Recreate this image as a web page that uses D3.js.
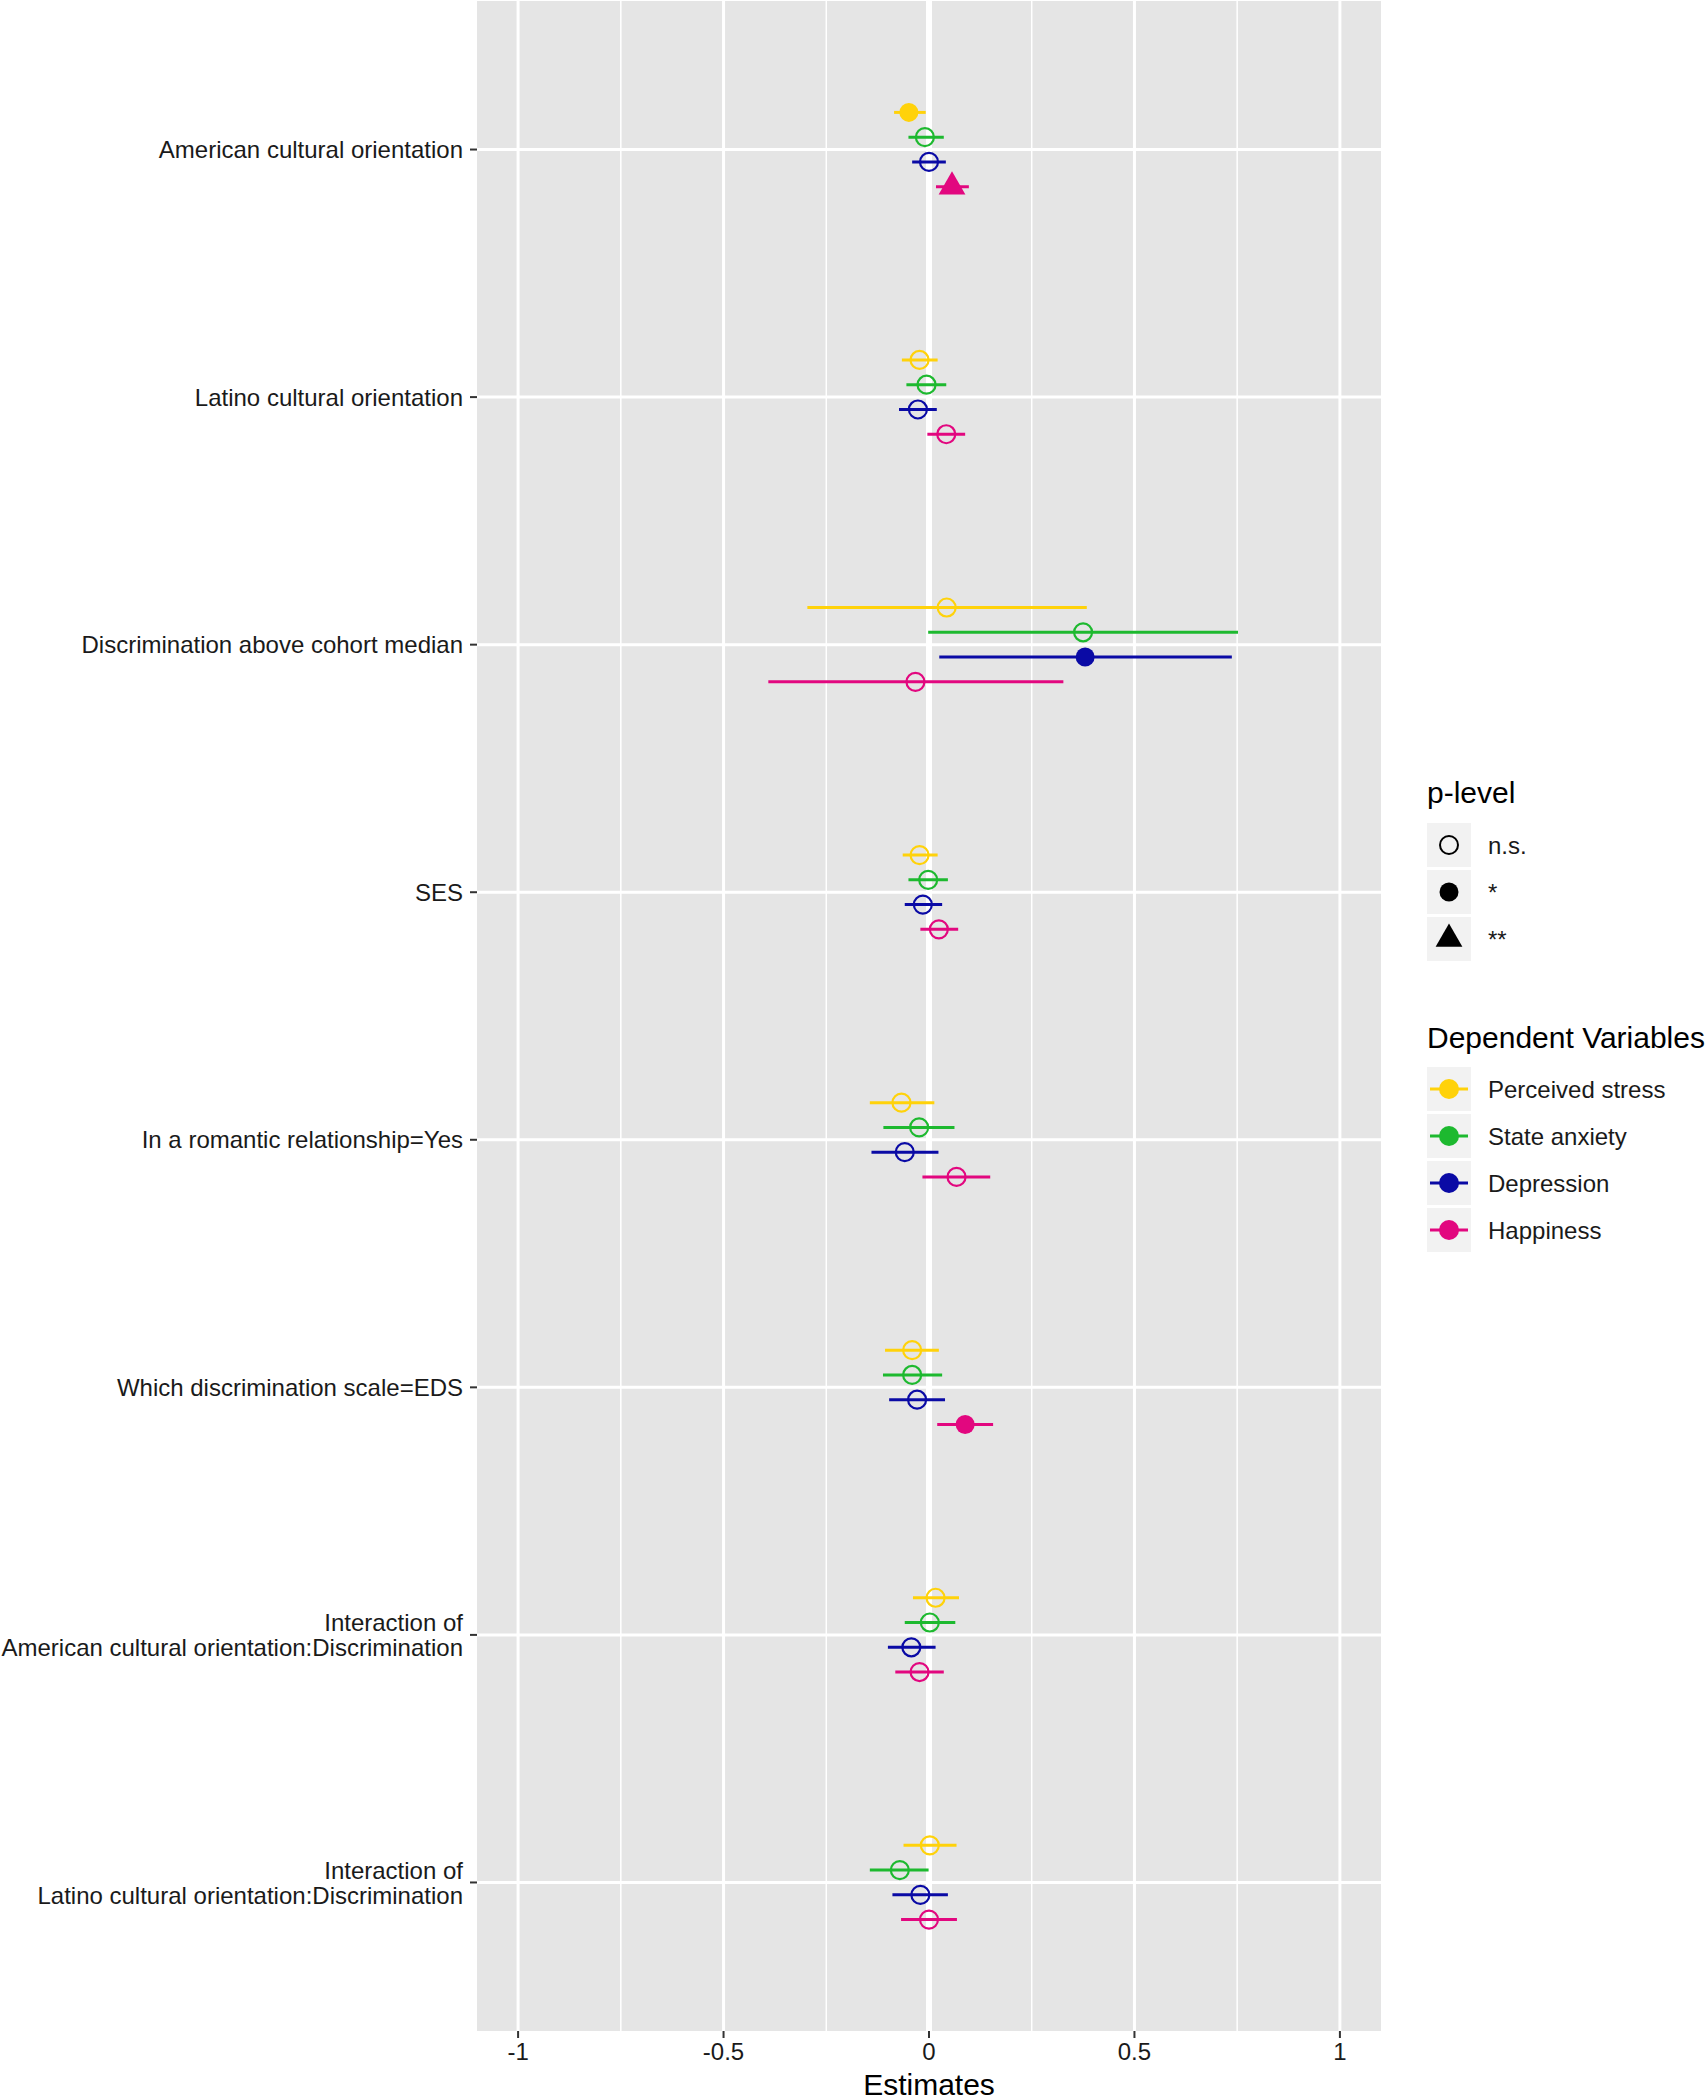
<!DOCTYPE html>
<html>
<head>
<meta charset="utf-8">
<script src="https://cdn.jsdelivr.net/npm/d3@7"></script>
<style>
  html, body { margin: 0; padding: 0; background: #ffffff; }
  svg { display: block; font-family: "Liberation Sans", Arial, Helvetica, sans-serif; }
</style>
</head>
<body>
<div id="chart"></div>
<script>
// ---------------- DATA ----------------
const categories = [
  "American cultural orientation",
  "Latino cultural orientation",
  "Discrimination above cohort median",
  "SES",
  "In a romantic relationship=Yes",
  "Which discrimination scale=EDS",
  "Interaction of\nAmerican cultural orientation:Discrimination",
  "Interaction of\nLatino cultural orientation:Discrimination"
];
const seriesNames = ["Perceived stress", "State anxiety", "Depression", "Happiness"];
const seriesColors = ["#FFD20A", "#1DB92F", "#0A0AA5", "#E2077F"];

const perceivedStressEst = [-0.049, -0.023, 0.043, -0.023, -0.067, -0.041, 0.016, 0.002];
const perceivedStressLo  = [-0.085, -0.066, -0.296, -0.064, -0.144, -0.107, -0.039, -0.062];
const perceivedStressHi  = [-0.008, 0.021, 0.384, 0.021, 0.013, 0.024, 0.073, 0.067];
const perceivedStressP   = ["*", "n.s.", "n.s.", "n.s.", "n.s.", "n.s.", "n.s.", "n.s."];

const stateAnxietyEst = [-0.010, -0.006, 0.375, -0.002, -0.024, -0.041, 0.002, -0.071];
const stateAnxietyLo  = [-0.050, -0.055, -0.002, -0.050, -0.111, -0.112, -0.059, -0.144];
const stateAnxietyHi  = [0.036, 0.042, 0.752, 0.046, 0.062, 0.032, 0.064, -0.001];
const stateAnxietyP   = ["n.s.", "n.s.", "n.s.", "n.s.", "n.s.", "n.s.", "n.s.", "n.s."];

const depressionEst = [0.000, -0.027, 0.380, -0.015, -0.059, -0.029, -0.043, -0.021];
const depressionLo  = [-0.041, -0.073, 0.025, -0.059, -0.140, -0.097, -0.100, -0.089];
const depressionHi  = [0.041, 0.019, 0.737, 0.032, 0.023, 0.039, 0.016, 0.046];
const depressionP   = ["n.s.", "n.s.", "*", "n.s.", "n.s.", "n.s.", "n.s.", "n.s."];

const happinessEst = [0.056, 0.042, -0.033, 0.024, 0.067, 0.088, -0.023, 0.000];
const happinessLo  = [0.017, -0.004, -0.391, -0.021, -0.016, 0.020, -0.082, -0.068];
const happinessHi  = [0.097, 0.088, 0.327, 0.071, 0.149, 0.156, 0.036, 0.068];
const happinessP   = ["**", "n.s.", "n.s.", "n.s.", "n.s.", "*", "n.s.", "n.s."];

const pLevels = ["n.s.", "*", "**"];
const xTicks = [-1, -0.5, 0, 0.5, 1];
const xTickLabels = ["-1", "-0.5", "0", "0.5", "1"];
const xMinorTicks = [-0.75, -0.25, 0.25, 0.75];
const xDomain = [-1.1, 1.1];

// ---------------- BUILD ----------------
const seriesData = [
  {est: perceivedStressEst, lo: perceivedStressLo, hi: perceivedStressHi, p: perceivedStressP},
  {est: stateAnxietyEst, lo: stateAnxietyLo, hi: stateAnxietyHi, p: stateAnxietyP},
  {est: depressionEst, lo: depressionLo, hi: depressionHi, p: depressionP},
  {est: happinessEst, lo: happinessLo, hi: happinessHi, p: happinessP}
];
const rows = [];
seriesData.forEach((s, si) => {
  categories.forEach((c, ci) => {
    rows.push({cat: c, series: seriesNames[si], si: si, est: s.est[ci], lo: s.lo[ci], hi: s.hi[ci], p: s.p[ci]});
  });
});

const W = 1707, H = 2100;
const panel = {left: 477, right: 1381, top: 1, bottom: 2031};
const textColor = "#1a1a1a";

const svg = d3.select("#chart").append("svg").attr("width", W).attr("height", H);
svg.append("rect").attr("width", W).attr("height", H).attr("fill", "#ffffff");

const x = d3.scaleLinear().domain(xDomain).range([panel.left, panel.right]);
const y = d3.scalePoint().domain(categories).range([panel.top, panel.bottom]).padding(0.6);
const dodge = d3.scalePoint().domain(seriesNames).range([-0.15, 0.15]);
const color = d3.scaleOrdinal().domain(seriesNames).range(seriesColors);

// panel background
svg.append("rect")
  .attr("x", panel.left).attr("y", panel.top)
  .attr("width", panel.right - panel.left).attr("height", panel.bottom - panel.top)
  .attr("fill", "#e5e5e5");

const grid = svg.append("g");
grid.selectAll("line.minor").data(xMinorTicks).join("line")
  .attr("x1", d => x(d)).attr("x2", d => x(d))
  .attr("y1", panel.top).attr("y2", panel.bottom)
  .attr("stroke", "#ffffff").attr("stroke-width", 1.5);
grid.selectAll("line.majorx").data(xTicks).join("line")
  .attr("x1", d => x(d)).attr("x2", d => x(d))
  .attr("y1", panel.top).attr("y2", panel.bottom)
  .attr("stroke", "#ffffff").attr("stroke-width", 3);
grid.selectAll("line.majory").data(categories).join("line")
  .attr("x1", panel.left).attr("x2", panel.right)
  .attr("y1", d => y(d)).attr("y2", d => y(d))
  .attr("stroke", "#ffffff").attr("stroke-width", 3);
svg.append("line")
  .attr("x1", x(0)).attr("x2", x(0))
  .attr("y1", panel.top).attr("y2", panel.bottom)
  .attr("stroke", "#ffffff").attr("stroke-width", 6);

// marks
const step = y.step();
const yPos = d => y(d.cat) + dodge(d.series) * step;

const marks = svg.append("g");
marks.selectAll("line.err").data(rows).join("line")
  .attr("x1", d => x(d.lo)).attr("x2", d => x(d.hi))
  .attr("y1", yPos).attr("y2", yPos)
  .attr("stroke", d => color(d.series)).attr("stroke-width", 3);

const triSym = d3.symbol().type(d3.symbolTriangle).size(310);
rows.forEach(d => {
  const cx = x(d.est), cy = yPos(d);
  if (d.p === "n.s.") {
    marks.append("circle").attr("cx", cx).attr("cy", cy).attr("r", 9)
      .attr("fill", "none")
      .attr("stroke", color(d.series)).attr("stroke-width", 2.2);
  } else if (d.p === "*") {
    marks.append("circle").attr("cx", cx).attr("cy", cy).attr("r", 9.5)
      .attr("fill", color(d.series));
  } else {
    marks.append("path").attr("d", triSym()).attr("transform", `translate(${cx},${cy})`)
      .attr("fill", color(d.series));
  }
});

// x axis
const xAxis = svg.append("g");
xAxis.selectAll("line").data(xTicks).join("line")
  .attr("x1", d => x(d)).attr("x2", d => x(d))
  .attr("y1", panel.bottom).attr("y2", panel.bottom + 7)
  .attr("stroke", "#333333").attr("stroke-width", 2);
xAxis.selectAll("text").data(xTicks).join("text")
  .attr("x", d => x(d)).attr("y", panel.bottom + 29)
  .attr("text-anchor", "middle").attr("font-size", 24).attr("fill", textColor)
  .text((d, i) => xTickLabels[i]);
svg.append("text")
  .attr("x", (panel.left + panel.right) / 2).attr("y", 2095)
  .attr("text-anchor", "middle").attr("font-size", 30).attr("fill", "#000000")
  .text("Estimates");

// y axis
const yAxis = svg.append("g");
yAxis.selectAll("line").data(categories).join("line")
  .attr("x1", panel.left - 7).attr("x2", panel.left)
  .attr("y1", d => y(d)).attr("y2", d => y(d))
  .attr("stroke", "#333333").attr("stroke-width", 2);
const lineH = 25;
categories.forEach(c => {
  const lines = c.split("\n");
  const t = yAxis.append("text").attr("text-anchor", "end").attr("font-size", 24).attr("fill", textColor);
  lines.forEach((ln, i) => {
    t.append("tspan").attr("x", 463)
      .attr("y", y(c) + (i - (lines.length - 1) / 2) * lineH)
      .attr("dy", "0.36em").text(ln);
  });
});

// legends
const lg = svg.append("g");
const keyX = 1427, keySize = 44, keyStep = 47, labelX = 1488;
lg.append("text").attr("x", keyX).attr("y", 803).attr("font-size", 30).attr("fill", "#000").text("p-level");
pLevels.forEach((p, i) => {
  const ky = 823 + i * keyStep;
  lg.append("rect").attr("x", keyX).attr("y", ky).attr("width", keySize).attr("height", keySize).attr("fill", "#f2f2f2");
  const cx = keyX + keySize / 2, cy = ky + keySize / 2;
  if (p === "n.s.") {
    lg.append("circle").attr("cx", cx).attr("cy", cy).attr("r", 9).attr("fill", "none").attr("stroke", "#000").attr("stroke-width", 2);
  } else if (p === "*") {
    lg.append("circle").attr("cx", cx).attr("cy", cy).attr("r", 9.5).attr("fill", "#000");
  } else {
    lg.append("path").attr("d", triSym()).attr("transform", `translate(${cx},${cy})`).attr("fill", "#000");
  }
  lg.append("text").attr("x", labelX).attr("y", cy).attr("dy", "0.36em").attr("font-size", 24).attr("fill", textColor).text(p);
});

lg.append("text").attr("x", keyX).attr("y", 1048).attr("font-size", 30).attr("fill", "#000").text("Dependent Variables");
seriesNames.forEach((s, i) => {
  const ky = 1067 + i * keyStep;
  lg.append("rect").attr("x", keyX).attr("y", ky).attr("width", keySize).attr("height", keySize).attr("fill", "#f2f2f2");
  const cx = keyX + keySize / 2, cy = ky + keySize / 2;
  lg.append("line").attr("x1", keyX + 3).attr("x2", keyX + keySize - 3).attr("y1", cy).attr("y2", cy)
    .attr("stroke", color(s)).attr("stroke-width", 3);
  lg.append("circle").attr("cx", cx).attr("cy", cy).attr("r", 10).attr("fill", color(s));
  lg.append("text").attr("x", labelX).attr("y", cy).attr("dy", "0.36em").attr("font-size", 24).attr("fill", textColor).text(s);
});
</script>
</body>
</html>
